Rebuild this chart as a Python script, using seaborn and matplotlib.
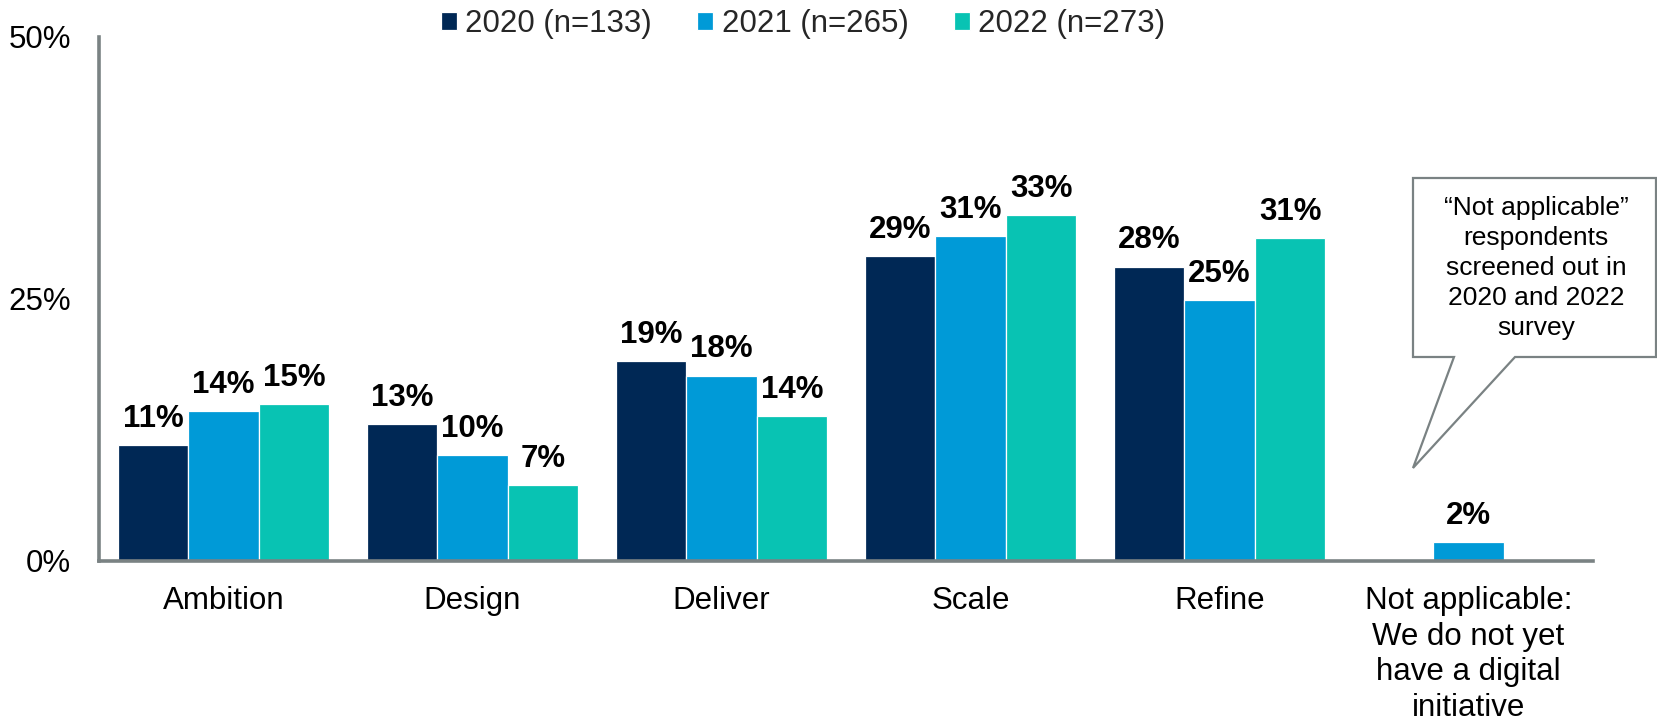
import pandas as pd
import numpy as np
import matplotlib
matplotlib.use("Agg")
import matplotlib.pyplot as plt
from matplotlib.patches import Polygon
import seaborn as sns

# ── dados ────────────────────────────────────────
stages = ["Ambition", "Design", "Deliver", "Scale", "Refine",
          "Not applicable:\nWe do not yet\nhave a digital\ninitiative"]
years = ["2020 (n=133)", "2021 (n=265)", "2022 (n=273)"]
vals_2020 = [11.1, 13.1, 19.1, 29.1, 28.1, np.nan]
vals_2021 = [14.3, 10.1, 17.7, 31.0, 24.9, 1.8]
vals_2022 = [15.0, 7.25, 13.8, 33.0, 30.8, np.nan]
colors = ["#002855", "#009AD7", "#08C3B3"]
callout_text = "\u201cNot applicable\u201d\nrespondents\nscreened out in\n2020 and 2022\nsurvey"

df = pd.DataFrame({
    "stage": stages * 3,
    "year": [y for y in years for _ in stages],
    "value": vals_2020 + vals_2021 + vals_2022,
}).dropna()

sns.set_theme(style="white")
plt.rcParams["font.family"] = ["Liberation Sans", "DejaVu Sans"]

W, H = 1658, 728
fig = plt.figure(figsize=(W / 100, H / 100), dpi=100)
ax = fig.add_axes([99 / W, 1 - 561 / H, (1593 - 99) / W, (561 - 37) / H])

sns.barplot(data=df, x="stage", y="value", hue="year", order=stages,
            hue_order=years, palette=colors, width=0.85, errorbar=None,
            edgecolor="white", linewidth=0.9, saturation=1, ax=ax)

for cont in ax.containers:
    ax.bar_label(cont, fmt="{:.0f}%", padding=8, fontsize=22.5,
                 fontweight="bold", color="black")

ax.set_xlim(-0.5, 5.5)
ax.set_ylim(0, 50)
ax.set_yticks([0, 25, 50])
ax.set_yticklabels(["0%", "25%", "50%"])
ax.set_xlabel("")
ax.set_ylabel("")
ax.tick_params(axis="x", length=0, pad=18, labelsize=22.5, labelcolor="black")
ax.tick_params(axis="y", length=0, pad=20, labelsize=22.5, labelcolor="black")
for lbl in ax.get_xticklabels():
    lbl.set_linespacing(1.24)

spine_col = "#7a8283"
for s in ["top", "right"]:
    ax.spines[s].set_visible(False)
for s in ["left", "bottom"]:
    ax.spines[s].set_color(spine_col)
    ax.spines[s].set_linewidth(2.6)

# legenda
handles, labels = ax.get_legend_handles_labels()
ax.legend(handles, labels, loc="center", bbox_to_anchor=(803 / W, 1 - 24 / H),
          bbox_transform=fig.transFigure, ncol=3, frameon=False,
          fontsize=22.5, handlelength=0.52, handleheight=0.52,
          handletextpad=0.26, columnspacing=1.45, borderaxespad=0)

# balão de observação
def px(x, y):
    return (x / W, 1 - y / H)

pts = [px(1413, 178), px(1656, 178), px(1656, 357), px(1515, 357),
       px(1413, 468), px(1454, 357), px(1413, 357)]
fig.patches.append(Polygon(pts, closed=True, facecolor="white",
                           edgecolor=spine_col, linewidth=1.6,
                           transform=fig.transFigure, zorder=5))
fig.text(1536 / W, 1 - 268 / H, callout_text, ha="center", va="center",
         fontsize=19, linespacing=1.32, color="black", zorder=6)

plt.savefig("out.png", dpi=100)
